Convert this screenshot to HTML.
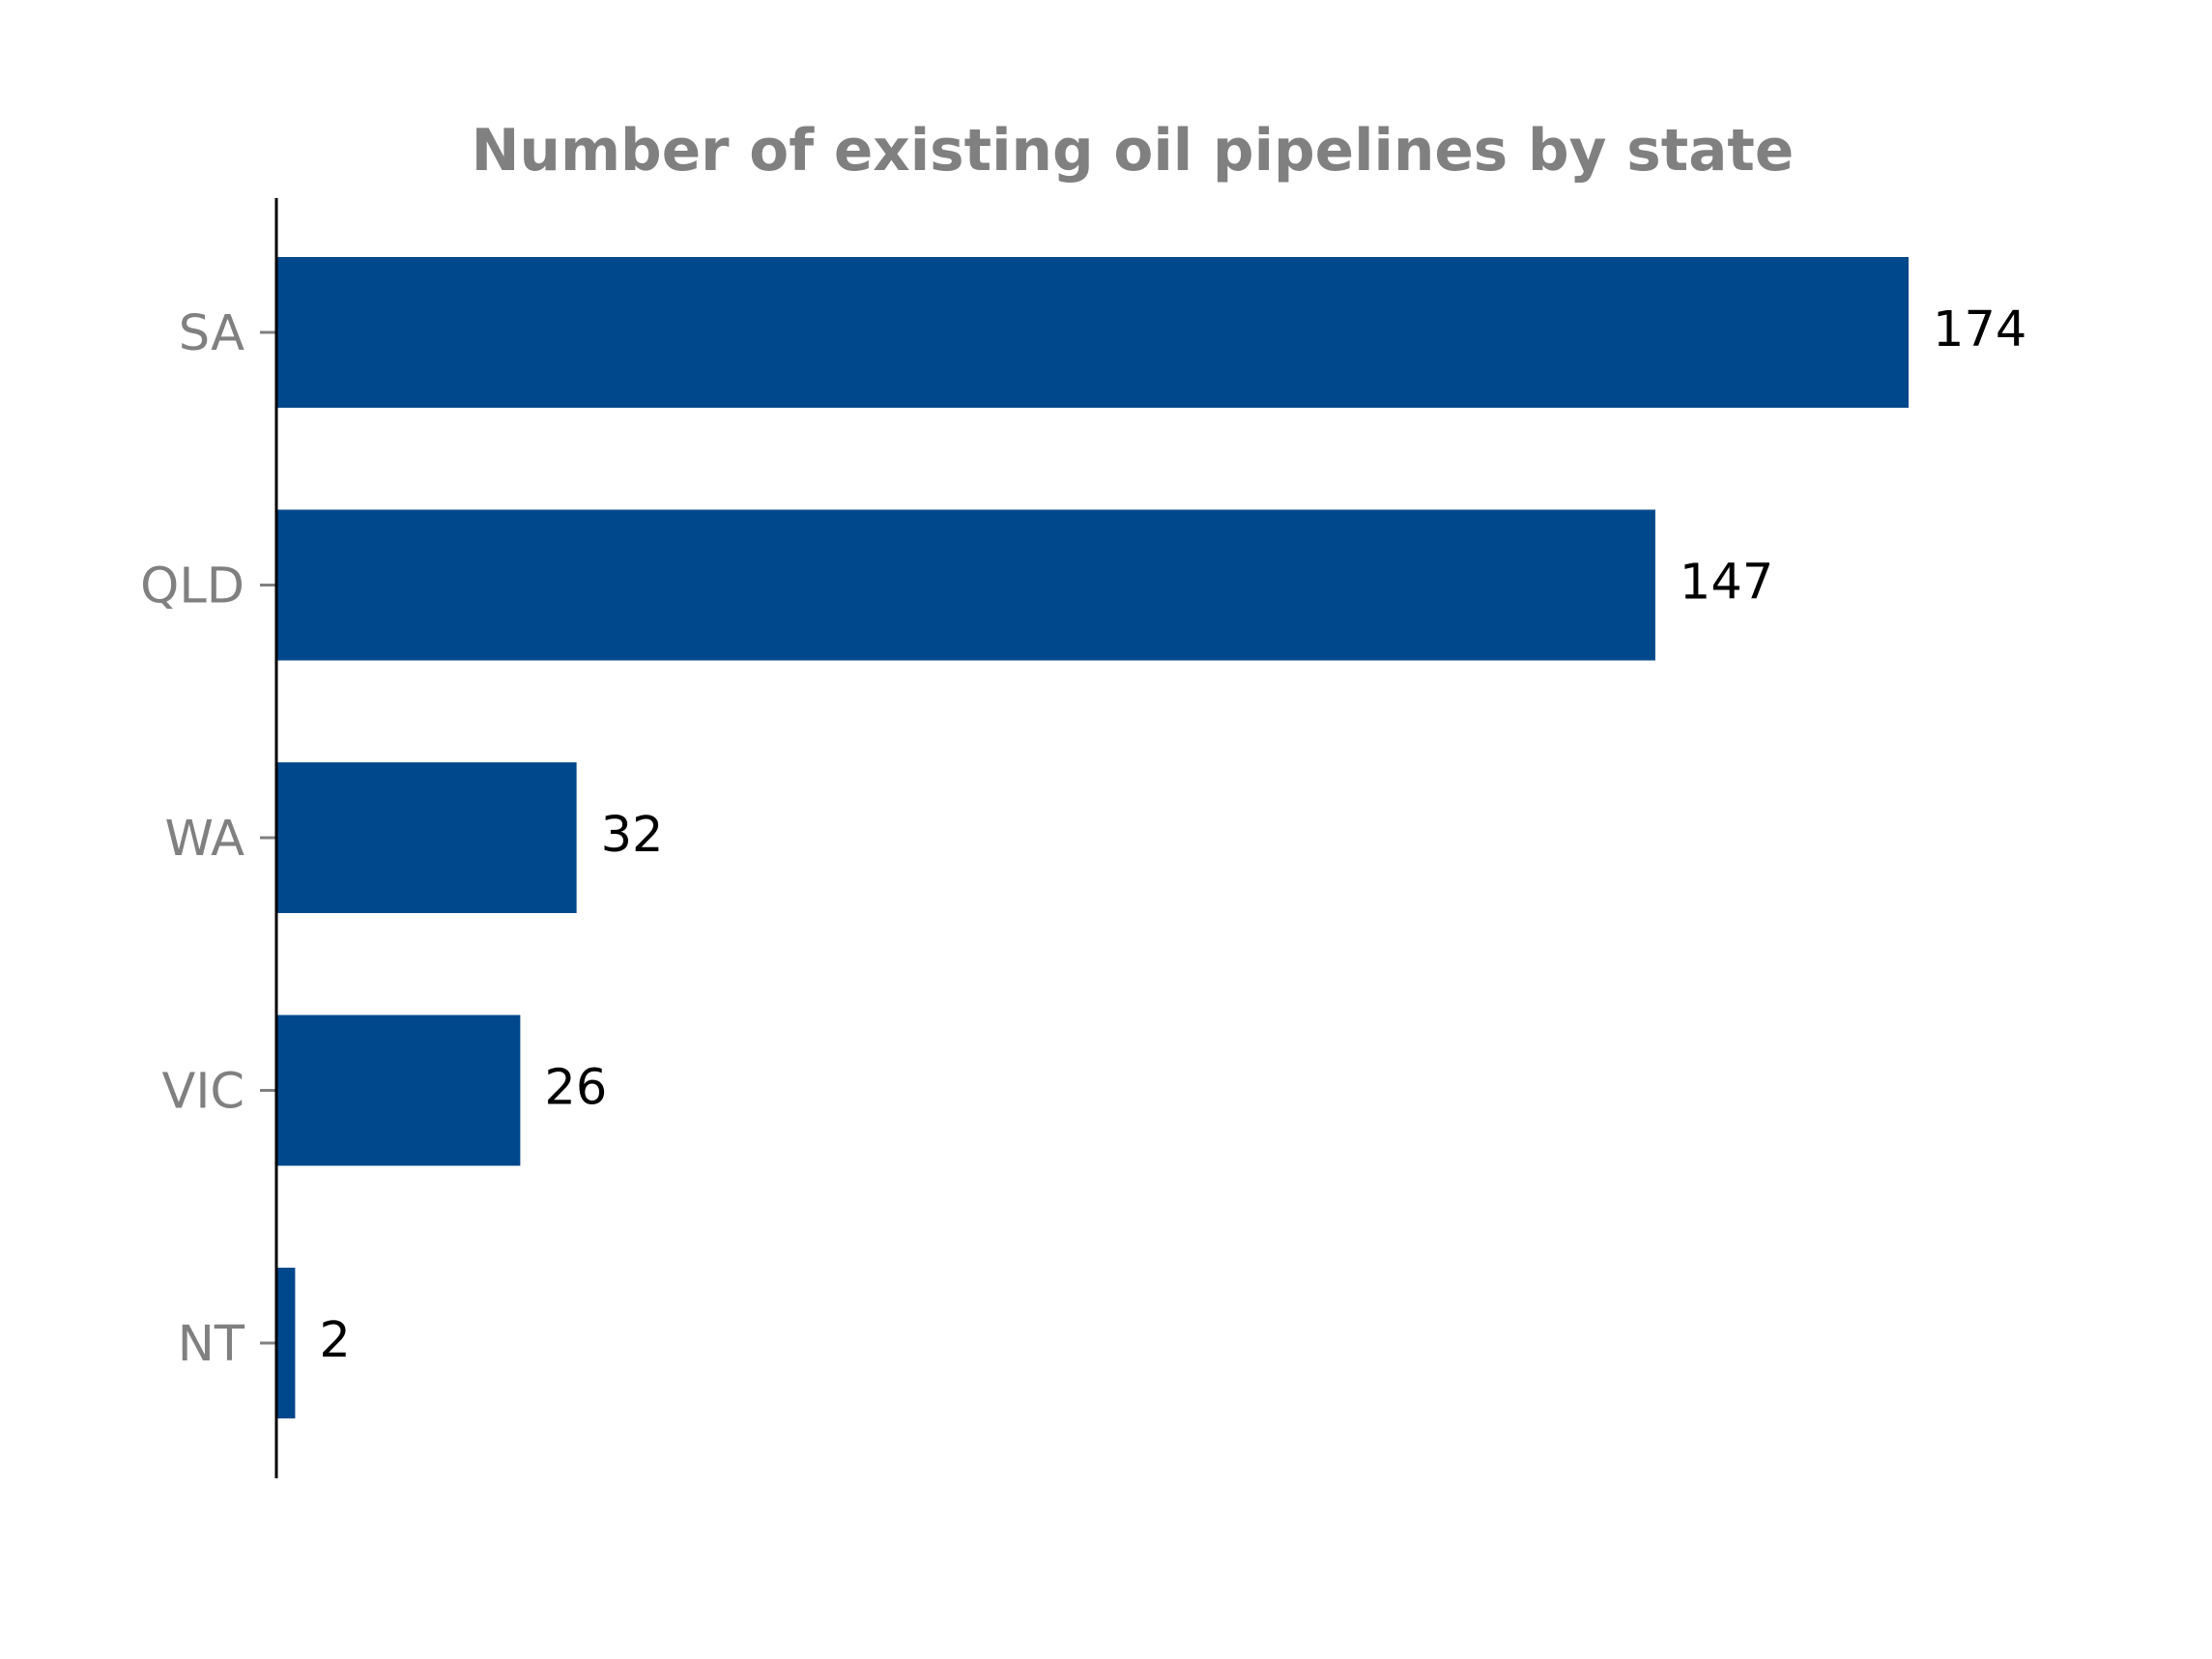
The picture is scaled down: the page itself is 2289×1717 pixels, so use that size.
<!DOCTYPE html>
<html><head><meta charset="utf-8"><style>
html,body{margin:0;padding:0;background:#fff;}
svg{display:block;font-family:"DejaVu Sans","Liberation Sans",sans-serif;}
</style></head><body>
<svg id="chart" width="2289" height="1717" viewBox="0 0 2289 1717" xmlns="http://www.w3.org/2000/svg">
<rect width="2289" height="1717" fill="#fff"/>
<text x="1172" y="176" text-anchor="middle" font-size="59.6" font-weight="bold" fill="#808080">Number of existing oil pipelines by state</text>
<g id="bars"></g>
<line x1="286" y1="205" x2="286" y2="1530" stroke="#000" stroke-width="3"/>
</svg>
<script>
const categories = ["SA","QLD","WA","VIC","NT"];
const values = [174,147,32,26,2];
const valueLabels = ["174","147","32","26","2"];

const ns="http://www.w3.org/2000/svg";
const g=document.getElementById('bars');
const x0=286, pxPerUnit=9.707;
const yTop=344, step=261.5, barH=156;
function xScale(v){return x0+v*pxPerUnit;}
function yScale(i){return yTop+i*step;}
categories.forEach((c,i)=>{
  const cy=yScale(i);
  const r=document.createElementNS(ns,'rect');
  
  
  r.setAttribute('x',x0);r.setAttribute('y',cy-barH/2);
  r.setAttribute('width',xScale(values[i])-x0);r.setAttribute('height',barH);
  r.setAttribute('fill','#00488c');
  g.appendChild(r);
  const t=document.createElementNS(ns,'line');
  
  
  t.setAttribute('x1',269);t.setAttribute('x2',286);t.setAttribute('y1',cy);t.setAttribute('y2',cy);
  t.setAttribute('stroke','#808080');t.setAttribute('stroke-width','3');
  g.appendChild(t);
  const l=document.createElementNS(ns,'text');
  
  
  l.setAttribute('x',253);l.setAttribute('y',cy+18);
  l.setAttribute('text-anchor','end');l.setAttribute('font-size','51');l.setAttribute('fill','#808080');
  l.textContent=c;g.appendChild(l);
  const v=document.createElementNS(ns,'text');
  
  
  v.setAttribute('x',xScale(values[i])+25);v.setAttribute('y',cy+14);
  v.setAttribute('font-size','51');v.setAttribute('fill','#000');
  v.textContent=valueLabels[i];g.appendChild(v);
});
</script>
</body></html>
